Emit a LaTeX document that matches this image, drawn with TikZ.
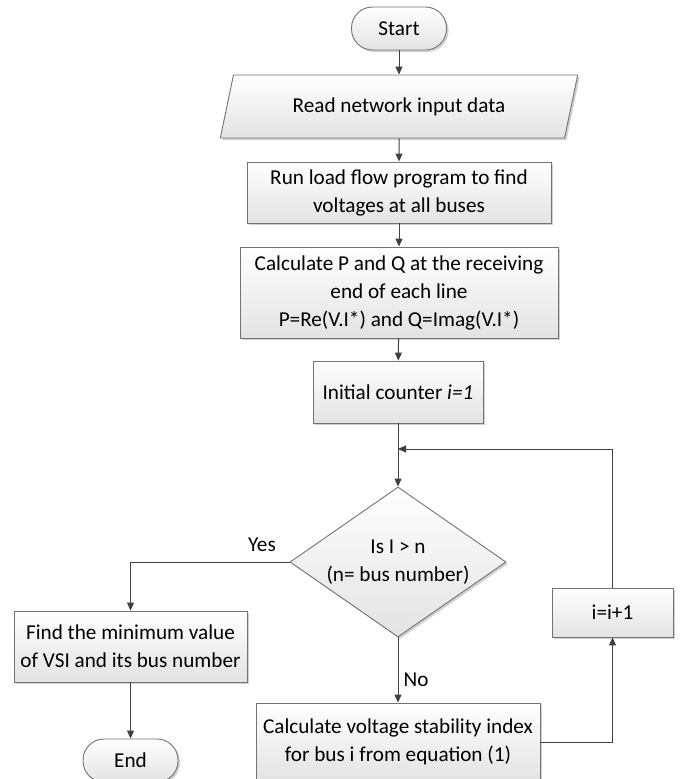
\documentclass[tikz,border=0pt]{standalone}
\usepackage{fontspec}
\setmainfont{Carlito}
\usetikzlibrary{shapes.geometric,shadows,arrows.meta}

\begin{document}
\begin{tikzpicture}[x=1pt,y=-1pt,
        font=\fontsize{21.2}{28}\selectfont,
        box/.style={draw=black!55, line width=0.9pt, top color=white, bottom color=black!11,
            align=center, inner sep=0pt,
            drop shadow={shadow xshift=2pt, shadow yshift=-2pt, fill=black!35, opacity=0.5}},
        term/.style={box, rounded corners=21pt},
        arr/.style={draw=black!75, line width=1pt, -{Triangle[width=7pt,length=8pt]}}]

        % Page size
        \useasboundingbox (0,0) rectangle (680,779);

        % Main column
        \node[term, minimum width=95pt, minimum height=43pt] (start) at (399,28.5) {Start}; % Start
        \node[box, trapezium, trapezium stretches=true, trapezium left angle=65, trapezium right angle=115,
            minimum width=358pt, minimum height=63pt] (read) at (399,106.5) {Read network input data}; % Input
        \node[box, minimum width=304pt, minimum height=61pt] (run) at (399,192.5)
            {Run load flow program to find\\voltages at all buses}; % Load flow
        \node[box, minimum width=318pt, minimum height=91pt] (calc) at (399,292.5)
            {Calculate P and Q at the receiving\\end of each line\\P=Re(V.I*) and Q=Imag(V.I*)}; % P and Q
        \node[box, minimum width=170pt, minimum height=62pt] (init) at (398,392)
            {Initial counter \textit{i=1}}; % Counter

        % Decision
        \node[box, diamond, minimum width=216pt, minimum height=150pt] (dec) at (398,562) {};
        \node (decText) at (dec.center) [align=center] {Is I {\char`\>} n\\(n= bus number)};
        \coordinate (join) at (398,449); % Loop joins here

        % Branches
        \node[box, minimum width=233pt, minimum height=71pt] (find) at (130.5,646.5)
            {Find the minimum value\\of VSI and its bus number}; % Yes branch
        \node[term, minimum width=95pt, minimum height=43pt] (end) at (130.5,760.5) {End}; % End
        \node[box, minimum width=284pt, minimum height=78pt] (vsi) at (398,742)
            {Calculate voltage stability index\\for bus i from equation (1)}; % No branch
        \node[box, minimum width=121pt, minimum height=49pt] (inc) at (612.5,612.5) {i=i+1}; % Increment

        % Labels
        \node (yes) at (262,545) {Yes};
        \node (no) at (416,680) {No};

        % Connectors
        \draw[arr] (start) -- (read);
        \draw[arr] (read) -- (run);
        \draw[arr] (run) -- (calc);
        \draw[arr] (calc) -- (init);
        \draw[arr] (init) -- (dec);
        \draw[arr] (dec.west) -| (find.north);
        \draw[arr] (find) -- (end);
        \draw[arr] (dec.south) -- (vsi.north);
        \draw[arr] (vsi.east) -| (inc.south);
        \draw[arr] (inc.north) |- (join);

    \end{tikzpicture}
\end{document}
